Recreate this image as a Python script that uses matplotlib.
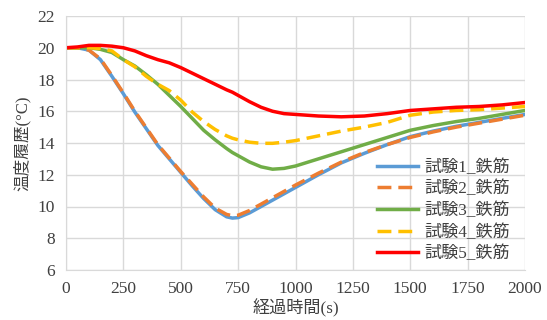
import matplotlib
matplotlib.use("Agg")
from matplotlib import pyplot as plt

plt.rcParams['font.family'] = ['Liberation Serif', 'Noto Sans CJK JP']

# elapsed time (s)
t = [0, 50, 100, 150, 200, 250, 300, 350, 400, 450, 500, 550, 600, 650, 700,
     725, 750, 800, 850, 900, 950, 1000, 1100, 1200, 1300, 1400, 1500, 1600,
     1700, 1800, 1900, 2000]

test1 = [20.0, 20.0, 19.85, 19.25, 18.2, 17.1, 15.95, 14.9, 13.85, 13.0, 12.15,
         11.3, 10.5, 9.8, 9.35, 9.27, 9.3, 9.6, 10.0, 10.4, 10.8, 11.2, 12.0,
         12.75, 13.35, 13.9, 14.4, 14.75, 15.05, 15.3, 15.55, 15.8]
test2 = [20.0, 20.0, 19.85, 19.3, 18.25, 17.15, 16.0, 14.95, 13.9, 13.05,
         12.2, 11.4, 10.6, 9.9, 9.5, 9.42, 9.45, 9.75, 10.15, 10.55, 10.95,
         11.35, 12.1, 12.8, 13.4, 13.9, 14.35, 14.7, 15.0, 15.25, 15.5, 15.75]
test3 = [20.0, 20.0, 20.0, 19.9, 19.7, 19.25, 18.85, 18.3, 17.7, 17.0, 16.3,
         15.55, 14.8, 14.2, 13.65, 13.4, 13.2, 12.8, 12.5, 12.35, 12.4, 12.55,
         13.0, 13.45, 13.9, 14.35, 14.8, 15.1, 15.35, 15.55, 15.8, 16.05]
test4 = [20.0, 20.0, 20.0, 19.95, 19.8, 19.25, 18.8, 18.2, 17.7, 17.3, 16.7,
         15.95, 15.35, 14.85, 14.45, 14.3, 14.2, 14.05, 13.98, 13.98, 14.05,
         14.15, 14.45, 14.75, 15.0, 15.3, 15.75, 15.95, 16.05, 16.1, 16.2, 16.3]
test5 = [20.0, 20.05, 20.15, 20.15, 20.1, 20.0, 19.8, 19.5, 19.25, 19.05,
         18.75, 18.4, 18.05, 17.7, 17.35, 17.2, 17.0, 16.6, 16.25, 16.0, 15.85,
         15.8, 15.7, 15.65, 15.7, 15.85, 16.05, 16.15, 16.25, 16.3, 16.4, 16.55]

labels = ['試験1_鉄筋', '試験2_鉄筋', '試験3_鉄筋', '試験4_鉄筋', '試験5_鉄筋']

fig = plt.figure(figsize=(5.47, 3.2), dpi=100)
ax = fig.add_axes([66/547, 50/320, 459/547, 254/320])

ax.plot(t, test1, color='#5B9BD5', lw=2.5, label=labels[0])
ax.plot(t, test2, color='#ED7D31', lw=2.5, dashes=(4, 2), label=labels[1])
ax.plot(t, test3, color='#70AD47', lw=2.5, label=labels[2])
ax.plot(t, test4, color='#FFC000', lw=2.5, dashes=(4, 2), label=labels[3])
ax.plot(t, test5, color='#FF0000', lw=2.5, label=labels[4])

ax.set_xlim(0, 2000)
ax.set_ylim(6, 22)
ax.set_xticks(range(0, 2001, 250))
ax.set_yticks(range(6, 23, 2))
ax.grid(True, color='#D9D9D9', lw=1)
ax.set_axisbelow(True)
for s in ['top', 'right']:
    ax.spines[s].set_visible(False)
for s in ['left', 'bottom']:
    ax.spines[s].set_color('#D9D9D9')
ax.tick_params(length=0, labelsize=12.5, colors='#404040', pad=8)

ax.set_xlabel('経過時間(s)', fontsize=12.3, color='#404040', labelpad=1)
ax.set_ylabel('温度履歴(°C)', fontsize=12, color='#404040', labelpad=5)

ax.legend(loc='lower right', bbox_to_anchor=(0.99, -0.01), frameon=False,
          fontsize=12.3, handlelength=2.4, labelspacing=0.3, handletextpad=0.35,
          borderaxespad=0.2, labelcolor='#404040')

fig.savefig('out.png', dpi=100)
